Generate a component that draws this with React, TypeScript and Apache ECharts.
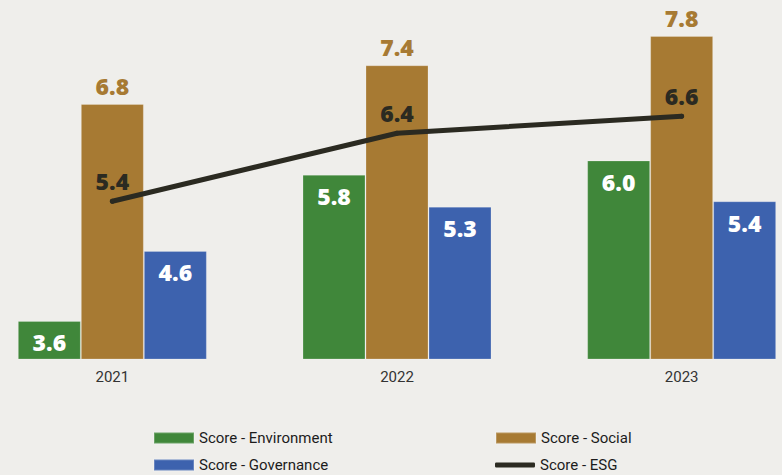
import React, { useEffect, useRef } from "react";
import * as echarts from "echarts";

const years = ["2021", "2022", "2023"];
const environment = [3.6, 5.75, 5.96];
const social = [6.79, 7.36, 7.79];
const governance = [4.63, 5.28, 5.36];
const esg = [5.36, 6.36, 6.61];

const GREEN = "#40873a";
const BROWN = "#a77a33";
const BLUE = "#3d62ae";
const DARK = "#2b2a21";
const BG = "#efeeeb";

const SHIFT = 30;

const fmt = (p: any) => Number(p.value).toFixed(1);

export default function App() {
  const ref = useRef<HTMLDivElement>(null);
  useEffect(() => {
    if (!ref.current) return;
    const chart = echarts.init(ref.current, undefined, { renderer: "svg" });
    const valueFont = { fontFamily: "Open Sans", fontWeight: 800, fontSize: 23 };
    const legendBase = {
      orient: "vertical" as const,
      itemWidth: 40,
      itemHeight: 11,
      itemGap: 0,
      padding: 0,
      textStyle: { fontFamily: "Roboto", fontSize: 15, color: "#1c1c1c", lineHeight: 16 },
      icon: "rect",
    };
    const barBorder = { borderColor: "rgba(255,255,255,0.22)", borderWidth: 1 };
    chart.setOption({
      animation: false,
      backgroundColor: BG,
      grid: { left: 0, right: 0, top: 0, bottom: 116, containLabel: false },
      xAxis: {
        type: "category",
        data: years,
        axisLine: { show: false },
        axisTick: { show: false },
        axisLabel: { fontFamily: "Roboto", fontSize: 15, color: "#333", margin: 10 },
      },
      yAxis: {
        type: "value",
        min: 3.04,
        max: 3.04 + 359 / 68,
        show: false,
        splitLine: { show: false },
      },
      legend: [
        { ...legendBase, left: 153 + SHIFT, top: 430, data: ["Score - Environment"] },
        { ...legendBase, left: 153 + SHIFT, top: 457, data: ["Score - Governance"] },
        { ...legendBase, left: 495 + SHIFT, top: 430, data: ["Score - Social"] },
        { ...legendBase, left: 495 + SHIFT, top: 457, itemHeight: 5, icon: "roundRect", data: ["Score - ESG"] },
      ],
      series: [
        {
          name: "Score - Environment",
          type: "bar",
          data: environment,
          barWidth: 63,
          barGap: "0%",
          itemStyle: { color: GREEN, ...barBorder },
          label: { show: true, position: "insideTop", distance: 10, color: "#fff", formatter: fmt, ...valueFont },
        },
        {
          name: "Score - Social",
          type: "bar",
          data: social,
          barWidth: 63,
          barGap: "0%",
          itemStyle: { color: BROWN, ...barBorder },
          label: { show: true, position: "top", distance: 7, color: BROWN, formatter: fmt, ...valueFont },
        },
        {
          name: "Score - Governance",
          type: "bar",
          data: governance,
          barWidth: 63,
          barGap: "0%",
          itemStyle: { color: BLUE, ...barBorder },
          label: { show: true, position: "insideTop", distance: 10, color: "#fff", formatter: fmt, ...valueFont },
        },
        {
          name: "Score - ESG",
          type: "line",
          data: esg,
          color: DARK,
          symbol: "circle",
          symbolSize: 5,
          showSymbol: true,
          itemStyle: { color: DARK },
          lineStyle: { color: DARK, width: 5, cap: "round", join: "round" },
          label: { show: true, position: "top", distance: 6, color: DARK, formatter: fmt, ...valueFont },
          z: 5,
        },
      ],
    });
    return () => chart.dispose();
  }, []);
  return (
    <div style={{ position: "fixed", left: 0, top: 0, width: 782, height: 475, overflow: "hidden", background: BG }}>
      <div
        ref={ref}
        style={{ position: "absolute", left: -SHIFT, top: 0, width: 854, height: 475 }}
      />
    </div>
  );
}
